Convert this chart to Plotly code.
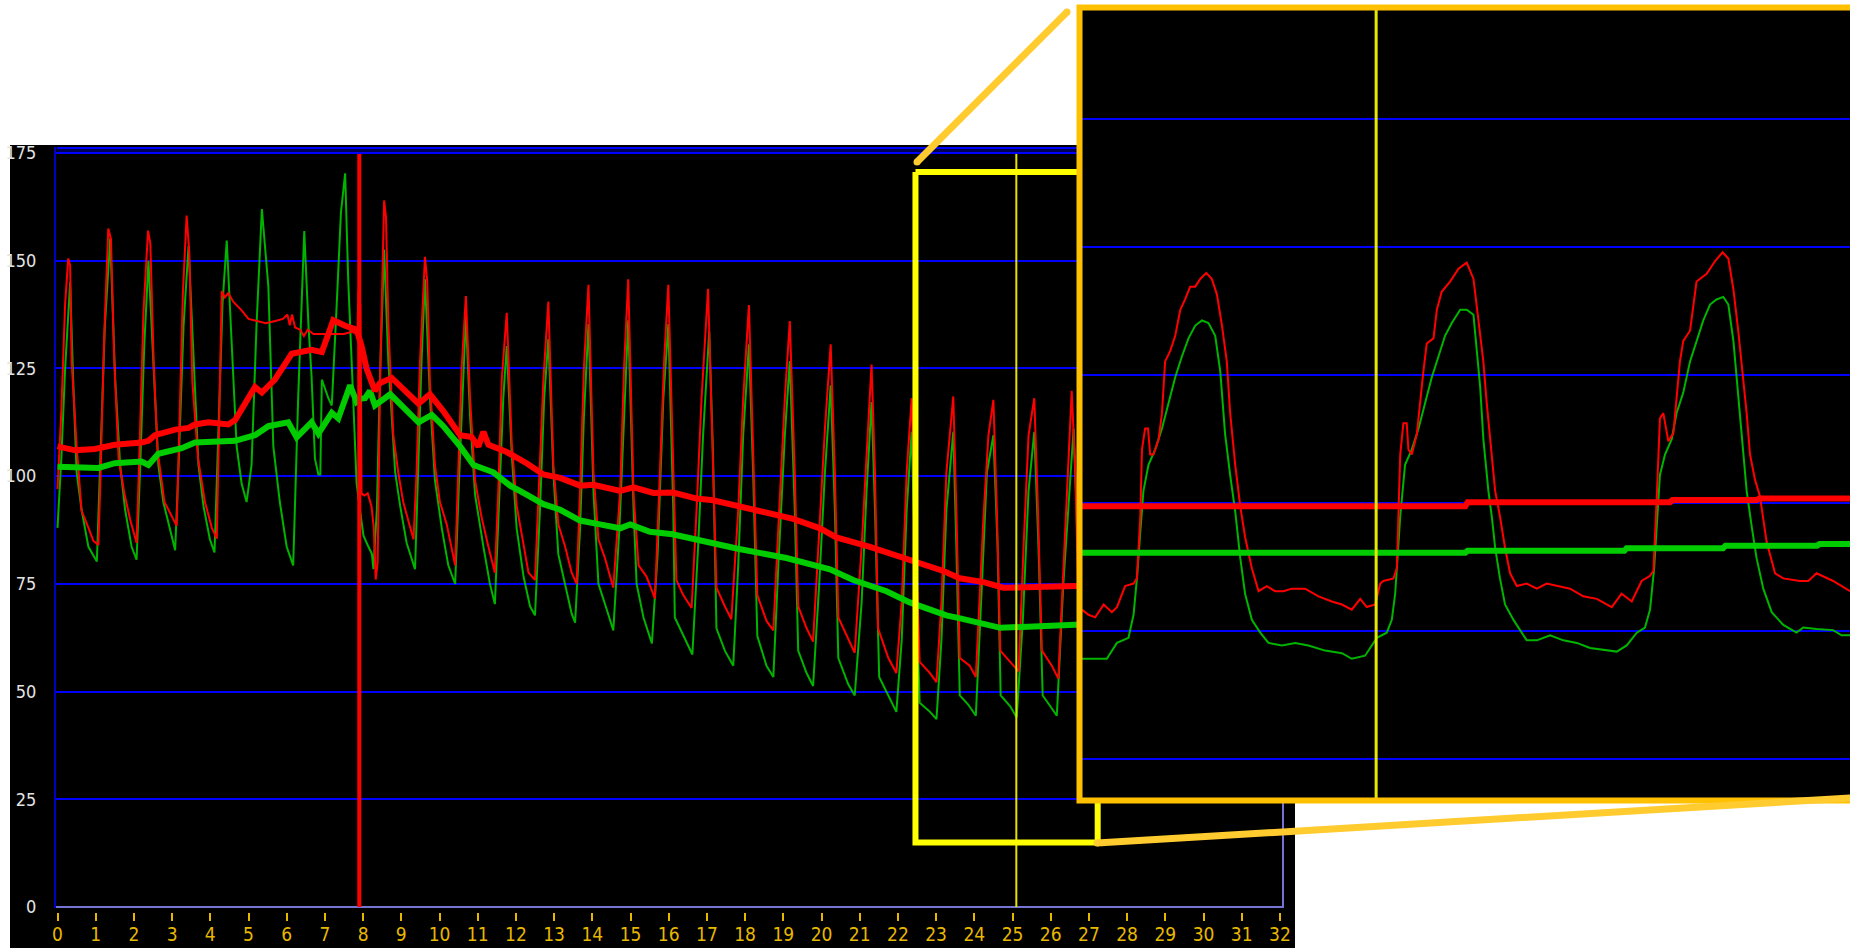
import plotly.graph_objects as go

W, H = 1850, 948

# ---------------- main chart data ----------------
RED_X = [0.00, 0.10, 0.20, 0.28, 0.33, 0.37, 0.50, 0.63, 0.81, 0.94, 1.07,
         1.12, 1.22, 1.33, 1.40, 1.48, 1.60, 1.75, 1.90, 2.07,
         2.14, 2.25, 2.37, 2.43, 2.52, 2.62, 2.80, 2.98, 3.12,
         3.18, 3.28, 3.38, 3.45, 3.53, 3.68, 3.86, 4.04, 4.17,
         4.22, 4.30, 4.38, 4.47, 4.60, 4.82, 5.00, 5.20, 5.45, 5.70, 5.90, 6.02, 6.08, 6.14,
         6.22, 6.35, 6.45, 6.55, 6.70, 6.90, 7.10, 7.30, 7.50, 7.70, 7.85,
         7.88, 7.90, 7.93, 7.96, 8.03, 8.12, 8.22, 8.28, 8.33, 8.38, 8.45, 8.55, 8.60,
         8.66, 8.79, 8.92, 9.05, 9.19, 9.32,
         9.40, 9.49, 9.62, 9.68, 9.75, 9.88, 10.01, 10.19, 10.41,
         10.49, 10.58, 10.69, 10.80, 10.93, 11.10, 11.28, 11.45,
         11.54, 11.63, 11.76, 11.89, 12.02, 12.20, 12.33, 12.50,
         12.59, 12.72, 12.85, 12.98, 13.11, 13.29, 13.46, 13.59,
         13.68, 13.78, 13.90, 14.03, 14.16, 14.33, 14.55,
         14.73, 14.83, 14.94, 15.08, 15.21, 15.42, 15.64,
         15.77, 15.88, 15.99, 16.12, 16.20, 16.38, 16.60,
         16.73, 16.86, 17.03, 17.16, 17.25, 17.47, 17.64,
         17.82, 17.95, 18.10, 18.21, 18.32, 18.56, 18.74,
         18.87, 19.04, 19.17, 19.30, 19.39, 19.61, 19.78,
         19.91, 20.09, 20.24, 20.35, 20.44, 20.70, 20.87,
         21.05, 21.18, 21.31, 21.40, 21.48, 21.75, 21.96,
         22.10, 22.23, 22.36, 22.44, 22.57, 22.84, 23.01,
         23.14, 23.27, 23.45, 23.53, 23.62, 23.88, 24.04,
         24.24, 24.37, 24.50, 24.59, 24.68, 24.94, 25.16,
         25.29, 25.42, 25.57, 25.65, 25.77, 26.03, 26.20,
         26.38, 26.55, 26.65, 26.75, 27.00, 27.20]
RED_Y = [97, 115, 140, 150.5, 149, 126.7, 107, 92, 88, 85, 84,
         98, 132, 157.5, 155, 128, 104, 96, 90, 84.5,
         104, 138, 157, 154, 126, 106, 94, 91, 88.5,
         108, 142, 160.5, 152, 122, 104, 94, 88, 85.5,
         105, 143, 141.5, 142.5, 140.5, 138.5, 136.5, 136, 135.5, 136, 136.5, 137.5, 135, 137.5,
         134.5, 134, 132.5, 134, 133, 133, 133, 133, 133, 133.5, 133,
         143, 100, 140, 96, 95.5, 96, 93, 88, 76, 80, 125, 164, 160,
         135.3, 109.5, 100.9, 94, 89.7, 85.3,
         100.9, 126.7, 150.9, 145, 121.6, 102.6, 94, 88.8, 79.3,
         100, 125, 141.8, 118, 99, 90.5, 83.6, 77.6,
         96.6, 122.4, 137.9, 107.8, 93.1, 83.6, 77.6, 75.9,
         96.6, 122.4, 140.5, 102.6, 88.8, 83.6, 77.6, 75,
         96.6, 125, 144.4, 100.9, 85.3, 81, 74.1,
         96.6, 125, 145.7, 95.7, 79.3, 76.7, 71.6,
         100.9, 126.7, 144.4, 100.9, 75.9, 72.4, 69.4,
         92.2, 118, 143.5, 105.2, 74.1, 69.8, 66.8,
         92, 118, 139.7, 105, 72.4, 66.4, 64.2,
         88, 118, 136, 100.9, 69.8, 64.7, 61.6,
         83.6, 111, 130.6, 100.9, 67.2, 62, 59,
         83.6, 105, 125.9, 100.9, 64.7, 57.8, 54.3,
         70.7, 100.9, 118.1, 92.2, 56.9, 54.3, 52.2,
         70.7, 100.9, 118.5, 92.2, 57.8, 56, 53.4,
         90.5, 109.5, 117.7, 92.2, 59.5, 56.9, 54.7,
         83.6, 109.5, 118.1, 97, 59.5, 56, 53,
         88, 119.8, 100, 60, 56, 54]

GREEN_X = [0.00, 0.10, 0.20, 0.33, 0.41, 0.50, 0.63, 0.81, 1.03,
           1.11, 1.24, 1.38, 1.51, 1.64, 1.77, 1.94, 2.07,
           2.16, 2.27, 2.38, 2.51, 2.64, 2.77, 2.95, 3.08,
           3.18, 3.30, 3.43, 3.56, 3.69, 3.82, 3.99, 4.11,
           4.21, 4.32, 4.43, 4.56, 4.69, 4.82, 4.95,
           5.08, 5.21, 5.35, 5.52, 5.65, 5.82, 6.00, 6.17,
           6.30, 6.46, 6.57, 6.65, 6.74, 6.83, 6.88, 6.92, 7.09, 7.18, 7.31, 7.42, 7.53, 7.61, 7.74, 7.83,
           7.95, 8.01, 8.14, 8.23, 8.27, 8.36, 8.44, 8.55,
           8.66, 8.75, 8.84, 8.97, 9.14, 9.36,
           9.45, 9.53, 9.62, 9.75, 9.88, 10.06, 10.23, 10.41,
           10.52, 10.61, 10.69, 10.80, 10.93, 11.15, 11.32, 11.45,
           11.57, 11.67, 11.76, 11.89, 12.02, 12.20, 12.37, 12.50,
           12.63, 12.74, 12.85, 12.98, 13.11, 13.29, 13.46, 13.55,
           13.68, 13.78, 13.90, 14.03, 14.16, 14.38, 14.55,
           14.71, 14.83, 14.94, 15.08, 15.16, 15.34, 15.56,
           15.71, 15.86, 15.99, 16.12, 16.16, 16.38, 16.62,
           16.77, 16.90, 17.06, 17.16, 17.25, 17.47, 17.69,
           17.82, 17.95, 18.10, 18.21, 18.32, 18.56, 18.74,
           18.87, 19.04, 19.17, 19.30, 19.39, 19.61, 19.78,
           19.94, 20.09, 20.24, 20.35, 20.44, 20.70, 20.87,
           21.05, 21.18, 21.31, 21.40, 21.51, 21.75, 21.96,
           22.10, 22.23, 22.36, 22.44, 22.57, 22.84, 23.01,
           23.14, 23.27, 23.45, 23.53, 23.62, 23.84, 24.04,
           24.20, 24.33, 24.50, 24.61, 24.69, 24.94, 25.11,
           25.27, 25.42, 25.57, 25.68, 25.79, 25.99, 26.16,
           26.33, 26.60, 26.72, 26.80, 27.00, 27.20]
GREEN_Y = [88, 104, 125, 145, 122.4, 100.9, 92.2, 83.6, 80.2,
           100.9, 135, 155.2, 122.4, 102.6, 92.2, 83.6, 80.6,
           100.9, 130, 150, 126.7, 102.6, 94, 87.1, 82.8,
           105, 135, 153.4, 126.7, 102.6, 93.1, 85.3, 82.3,
           110, 140, 154.7, 130.2, 106.9, 98.3, 94,
           102.6, 135, 162, 144, 106.9, 94, 83.6, 79.3,
           118, 156.9, 135, 123.3, 104, 100.4, 100.4, 122.4, 118.1, 116.4, 140, 161.2, 170.3, 145.7, 118.1, 98.3,
           90, 86.2, 83.6, 82, 78.4, 92.2, 122.4, 152.6,
           126.7, 113, 100.9, 93.1, 84.5, 78.4,
           105.2, 126.7, 145.7, 118.1, 99.1, 87.9, 79.3, 75,
           100.9, 122.4, 137, 113.8, 95.7, 83.6, 75, 70.3,
           96.6, 118.1, 130.2, 105.2, 87.9, 76.7, 69.8, 67.7,
           92.2, 118.1, 131.9, 100.9, 81.9, 75, 68.1, 66,
           87.9, 113.8, 135.3, 96.6, 75, 69, 64.2,
           87.9, 113.8, 136.2, 92.2, 75, 67.2, 61.2,
           81.9, 118.1, 135.3, 92.2, 67.2, 62.9, 58.6,
           83.6, 109.5, 133.6, 105.2, 64.7, 59.5, 56,
           79.3, 109.5, 130.6, 100.9, 62.9, 56, 53.4,
           79.3, 109.5, 126.7, 92.2, 59.5, 54.3, 51.3,
           75, 100.9, 121.1, 92.2, 57.8, 51.7, 49.1,
           70.7, 96.6, 117.2, 92.2, 53.4, 49.1, 45.3,
           62, 92.2, 110.3, 83.6, 47.4, 45.3, 43.6,
           62, 92.2, 110.3, 83.6, 49.1, 47, 44.4,
           75, 100.9, 109.5, 83.6, 49.1, 46.6, 44,
           66.4, 96.6, 110.3, 83.6, 49.1, 46.6, 44.4,
           75, 111, 80, 50, 46, 44]

RED_AVG_X = [0.00, 0.46, 0.98, 1.50, 2.20, 2.38, 2.55, 3.08, 3.43, 3.60, 3.95, 4.30, 4.47, 4.65,
             5.17, 5.35, 5.69, 6.13, 6.65, 6.92, 7.22, 7.53, 7.83, 7.96, 8.09, 8.31, 8.44, 8.75,
             9.05, 9.45, 9.75, 10.10, 10.54, 10.84, 11.02, 11.15, 11.28, 11.76, 12.28, 12.72,
             13.16, 13.68, 14.03, 14.73, 15.08, 15.60, 16.12, 16.73, 17.16, 17.78, 18.39, 19.26,
             19.96, 20.39, 21.27, 22.14, 23.19, 23.62, 24.24, 24.76, 26.64, 27.20]
RED_AVG_Y = [106.9, 106, 106.3, 107.3, 107.8, 108.2, 109.5, 110.8, 111.2, 112, 112.5, 112.3, 112, 113,
             120.7, 119.4, 122.4, 128.4, 129.3, 128.8, 136.2, 134.9, 134, 130.2, 125, 119.8, 121.6, 122.8,
             120.3, 116.8, 119, 115.1, 109.5, 109.1, 106.9, 110.3, 107.3, 105.6, 103, 100.4,
             99.6, 97.8, 98, 96.6, 97.4, 96.1, 96.2, 94.8, 94.4, 93.1, 91.8, 90.1,
             87.9, 85.8, 83.6, 81, 78, 76.3, 75.4, 74.1, 74.6, 74.6]

GREEN_AVG_X = [0.00, 1.07, 1.50, 2.20, 2.38, 2.64, 3.25, 3.60, 4.65, 5.17, 5.52, 6.04, 6.26,
               6.65, 6.83, 7.18, 7.35, 7.66, 7.83, 7.95, 8.05, 8.18, 8.31, 8.71, 9.05, 9.45,
               9.80, 10.10, 10.54, 10.89, 11.41, 11.85, 12.28, 12.72, 13.16, 13.68, 14.20,
               14.73, 14.99, 15.51, 16.10, 16.90, 17.78, 19.08, 20.22, 20.83, 21.70, 22.31,
               23.27, 23.63, 24.24, 24.68, 26.64, 27.20]
GREEN_AVG_Y = [102.2, 101.9, 103, 103.4, 102.6, 105.2, 106.5, 107.8, 108.2, 109.5, 111.6, 112.5, 109,
               112.5, 109.9, 114.7, 113.4, 121.1, 117.2, 118, 118.1, 119.8, 116.4, 119, 116, 112.5,
               114.2, 111.6, 106.9, 102.6, 100.9, 97.8, 95.7, 93.5, 92.2, 89.7, 88.8,
               87.9, 88.8, 87.1, 86.5, 84.9, 83.2, 81, 78.4, 75.9, 73.3, 70.7,
               67.7, 67, 65.9, 64.8, 65.5, 65.5]

MARKER_RED_X = 7.9      # red vertical marker
CURSOR_X = 25.1         # yellow cursor
BOX_X = [22.46, 27.23]  # zoom window (x)
BOX_Y = [15.0, 170.6]   # zoom window (y)

X_TICKS = list(range(0, 33))
Y_TICKS = [0, 25, 50, 75, 100, 125, 150, 175]

# ---------------- inset (magnified) data ----------------
IN_RED_X = [23.879, 23.906, 23.934, 23.969, 24.003, 24.024, 24.058, 24.093, 24.107, 24.121, 24.128,
            24.141, 24.153, 24.162, 24.176, 24.197, 24.211, 24.224, 24.245, 24.266, 24.287, 24.307,
            24.328, 24.349, 24.370, 24.395, 24.418, 24.439, 24.460, 24.480, 24.494, 24.515, 24.536,
            24.556, 24.584, 24.612, 24.646, 24.681, 24.715, 24.750, 24.805, 24.861, 24.916, 24.958,
            24.999, 25.034, 25.061, 25.096, 25.117, 25.130, 25.172, 25.186, 25.200, 25.213, 25.227,
            25.234, 25.248, 25.269, 25.296, 25.310, 25.338, 25.352, 25.372, 25.407, 25.442, 25.476,
            25.504, 25.525, 25.545, 25.559, 25.573, 25.594, 25.614, 25.635, 25.656, 25.684, 25.725,
            25.767, 25.808, 25.863, 25.905, 25.960, 26.016, 26.078, 26.119, 26.161, 26.202, 26.237,
            26.251, 26.265, 26.278, 26.292, 26.313, 26.334, 26.361, 26.375, 26.403, 26.430, 26.472,
            26.507, 26.538, 26.562, 26.583, 26.603, 26.624, 26.638, 26.652, 26.673, 26.693, 26.721,
            26.756, 26.790, 26.859, 26.894, 26.928, 26.997, 27.067]
IN_RED_Y = [54.1, 53.1, 52.6, 55.1, 53.6, 54.6, 58.7, 59.2, 60.2, 72.3, 85.4,
            89.5, 89.5, 84.4, 84.4, 87.4, 92.5, 102.6, 104.6, 107.6, 112.7, 114.7,
            117.2, 117.2, 118.7, 119.9, 118.7, 115.7, 109.6, 102.6, 92.5, 82.4, 74.3,
            68.3, 62.2, 57.7, 58.7, 57.7, 57.7, 58.2, 58.2, 56.7, 55.7, 55.1,
            54.1, 56.2, 54.6, 55.1, 59.2, 59.7, 60.2, 62.2, 84.4, 90.5, 90.5,
            85.4, 84.4, 88.4, 100.6, 106.1, 107.1, 112.7, 116.2, 118.2, 120.7, 121.9,
            118.7, 110.6, 102.6, 94.5, 87.4, 77.3, 72.3, 66.2, 61.2, 58.7, 59.2,
            58.2, 59.2, 58.7, 58.2, 56.7, 56.2, 54.6, 57.2, 55.7, 59.7, 60.7,
            61.7, 76.3, 91.5, 92.5, 87.0, 88.6, 102.6, 106.6, 108.6, 118.2, 119.7,
            122.2, 123.9, 122.7, 116.7, 108.6, 99.5, 92.5, 84.4, 79.4, 76.3, 67.3,
            61.2, 60.2, 59.7, 59.7, 61.2, 59.7, 57.7]

IN_GREEN_X = [23.879, 23.982, 24.024, 24.072, 24.093, 24.107, 24.121, 24.134, 24.155, 24.183, 24.211,
              24.238, 24.266, 24.294, 24.321, 24.349, 24.377, 24.404, 24.432, 24.453, 24.473, 24.494,
              24.515, 24.536, 24.556, 24.584, 24.619, 24.653, 24.709, 24.764, 24.819, 24.888, 24.958,
              24.999, 25.054, 25.082, 25.103, 25.144, 25.165, 25.179, 25.200, 25.220, 25.248, 25.276,
              25.303, 25.331, 25.359, 25.386, 25.414, 25.449, 25.476, 25.504, 25.518, 25.532, 25.545,
              25.566, 25.580, 25.594, 25.614, 25.635, 25.670, 25.725, 25.767, 25.822, 25.877, 25.933,
              25.988, 26.043, 26.099, 26.140, 26.182, 26.216, 26.237, 26.254, 26.267, 26.278, 26.299,
              26.327, 26.347, 26.375, 26.403, 26.430, 26.458, 26.486, 26.513, 26.541, 26.562, 26.583,
              26.600, 26.617, 26.638, 26.659, 26.679, 26.707, 26.742, 26.790, 26.845, 26.873, 26.928,
              26.997, 27.032, 27.067]
IN_GREEN_Y = [44.5, 44.5, 47.6, 48.6, 53.1, 60.2, 69.3, 77.3, 82.4, 85.4, 89.5,
              94.5, 99.5, 103.6, 107.1, 109.6, 110.6, 110.1, 107.6, 100.6, 88.4, 80.4,
              73.3, 64.2, 57.2, 52.1, 49.6, 47.6, 47.1, 47.6, 47.1, 46.1, 45.6,
              44.5, 45.1, 47.1, 48.6, 49.6, 52.1, 57.2, 72.3, 82.4, 85.4, 89.5,
              94.5, 99.5, 103.6, 107.6, 110.1, 112.7, 112.7, 111.7, 104.6, 97.5, 87.4,
              77.3, 72.3, 66.2, 60.2, 55.1, 52.1, 48.1, 48.1, 49.1, 48.1, 47.6,
              46.6, 46.3, 45.9, 47.1, 49.6, 50.6, 54.1, 62.2, 72.3, 80.4, 84.4,
              87.4, 92.5, 96.5, 102.6, 106.6, 110.6, 113.7, 114.7, 115.2, 113.7, 106.6,
              97.5, 87.4, 77.3, 70.3, 64.2, 58.2, 53.6, 51.1, 49.6, 50.6, 50.3,
              50.1, 49.1, 49.1]

IN_RED_AVG_X = [23.879, 25.470, 25.480, 26.320, 26.330, 26.680, 26.690, 27.067]
IN_RED_AVG_Y = [74.3, 74.3, 75.1, 75.1, 75.5, 75.5, 75.8, 75.8]
IN_GREEN_AVG_X = [23.879, 25.470, 25.480, 26.130, 26.140, 26.540, 26.550, 26.930, 26.940, 27.067]
IN_GREEN_AVG_Y = [65.2, 65.2, 65.6, 65.6, 66.1, 66.1, 66.6, 66.6, 66.9, 66.9]
IN_X_RANGE = [23.879, 27.067]
IN_Y_RANGE = [17.3, 171.25]
IN_GRID = [25, 50, 75, 100, 125, 150]

# ---------------- colours ----------------
RED = "#FF0000"
GREEN_THIN = "#00B400"
GREEN_THICK = "#00CC00"
GRID_BLUE = "#0000FF"
AXIS_LAV = "#7474D4"
GOLD = "#E8B800"
ORANGE = "#FFC000"
CONNECT = "#FFCB2E"
YELLOW = "#FFFF00"
FONT = "Liberation Sans Narrow, DejaVu Sans Condensed, Liberation Sans, sans-serif"


def PX(x):
    return x / W


def PY(y):
    return 1 - y / H


fig = go.Figure()

# main traces
fig.add_trace(go.Scatter(x=GREEN_X, y=GREEN_Y, mode="lines",
                         line=dict(color=GREEN_THIN, width=2), xaxis="x", yaxis="y"))
fig.add_trace(go.Scatter(x=RED_X, y=RED_Y, mode="lines",
                         line=dict(color=RED, width=2), xaxis="x", yaxis="y"))
fig.add_trace(go.Scatter(x=GREEN_AVG_X, y=GREEN_AVG_Y, mode="lines",
                         line=dict(color=GREEN_THICK, width=6), xaxis="x", yaxis="y"))
fig.add_trace(go.Scatter(x=RED_AVG_X, y=RED_AVG_Y, mode="lines",
                         line=dict(color=RED, width=6), xaxis="x", yaxis="y"))
fig.add_trace(go.Scatter(x=[MARKER_RED_X, MARKER_RED_X], y=[0, 174.8], mode="lines",
                         line=dict(color=RED, width=4), xaxis="x", yaxis="y"))
fig.add_trace(go.Scatter(x=[CURSOR_X, CURSOR_X], y=[0, 174.8], mode="lines",
                         line=dict(color="#E2E200", width=2), xaxis="x", yaxis="y"))
fig.add_trace(go.Scatter(x=[BOX_X[0], BOX_X[1], BOX_X[1], BOX_X[0], BOX_X[0]],
                         y=[BOX_Y[1], BOX_Y[1], BOX_Y[0], BOX_Y[0], BOX_Y[1]], mode="lines",
                         line=dict(color=YELLOW, width=6), xaxis="x", yaxis="y"))

# inset traces
fig.add_trace(go.Scatter(x=IN_GREEN_X, y=IN_GREEN_Y, mode="lines",
                         line=dict(color=GREEN_THIN, width=2), xaxis="x2", yaxis="y2"))
fig.add_trace(go.Scatter(x=IN_RED_X, y=IN_RED_Y, mode="lines",
                         line=dict(color=RED, width=2), xaxis="x2", yaxis="y2"))
fig.add_trace(go.Scatter(x=IN_GREEN_AVG_X, y=IN_GREEN_AVG_Y, mode="lines",
                         line=dict(color=GREEN_THICK, width=6), xaxis="x2", yaxis="y2"))
fig.add_trace(go.Scatter(x=IN_RED_AVG_X, y=IN_RED_AVG_Y, mode="lines",
                         line=dict(color=RED, width=6), xaxis="x2", yaxis="y2"))
fig.add_trace(go.Scatter(x=[CURSOR_X, CURSOR_X], y=IN_Y_RANGE, mode="lines",
                         line=dict(color="#E8E800", width=3), xaxis="x2", yaxis="y2"))

shapes = [
    # black panel behind main chart incl. tick label area
    dict(type="rect", xref="paper", yref="paper", x0=PX(10), x1=PX(1295), y0=0, y1=PY(145),
         fillcolor="black", line=dict(width=0), layer="below"),
    # top double border
    dict(type="rect", xref="paper", yref="paper", x0=PX(57), x1=PX(1283), y0=PY(152), y1=PY(149),
         fillcolor="#000050", line=dict(width=0), layer="below"),
    dict(type="line", xref="paper", yref="paper", x0=PX(57), x1=PX(1283), y0=PY(148), y1=PY(148),
         line=dict(color=GRID_BLUE, width=2), layer="below"),
    # right border
    dict(type="line", xref="paper", yref="paper", x0=PX(1283), x1=PX(1283), y0=PY(147), y1=PY(908),
         line=dict(color=AXIS_LAV, width=2), layer="below"),
    # inset frame
    dict(type="rect", xref="paper", yref="paper", x0=PX(1079.5), x1=PX(1900), y0=PY(800.5), y1=PY(7.5),
         line=dict(color=ORANGE, width=6), layer="above"),
    # connectors
    dict(type="line", xref="paper", yref="paper", x0=PX(917), y0=PY(162), x1=PX(1067), y1=PY(12),
         line=dict(color=CONNECT, width=7), layer="above"),
    dict(type="line", xref="paper", yref="paper", x0=PX(1097), y0=PY(843), x1=PX(1900), y1=PY(795),
         line=dict(color=CONNECT, width=7), layer="above"),
]
for cx, cy in [(917, 162), (1067, 12), (1097, 843)]:
    shapes.append(dict(type="circle", xref="paper", yref="paper",
                       x0=PX(cx - 3.5), x1=PX(cx + 3.5), y0=PY(cy + 3.5), y1=PY(cy - 3.5),
                       fillcolor=CONNECT, line=dict(width=0), layer="above"))

fig.update_layout(
    width=W, height=H,
    margin=dict(l=0, r=0, t=0, b=0, pad=0, autoexpand=False),
    paper_bgcolor="white",
    plot_bgcolor="black",
    showlegend=False,
    shapes=shapes,
    xaxis=dict(domain=[PX(56), PX(1284)], range=[(56 - 57.5) / 38.2, (1284 - 57.5) / 38.2],
               anchor="free", position=PY(912), tickmode="array", tickvals=X_TICKS,
               ticktext=[str(t) for t in X_TICKS], ticks="outside", ticklen=8, tickwidth=2,
               tickcolor=GOLD, tickfont=dict(family=FONT, size=19, color=GOLD),
               ticklabelstandoff=-3,
               showgrid=False, zeroline=False, showline=False, fixedrange=True,
               automargin=False),
    yaxis=dict(domain=[PY(908.3), PY(147)], range=[-0.3, 176.4], anchor="x",
               tickmode="array", tickvals=Y_TICKS, ticktext=[str(t) for t in Y_TICKS],
               ticks="outside", ticklen=14, tickcolor="black",
               tickfont=dict(family=FONT, size=18, color="#E4E4E4"),
               showgrid=True, gridcolor=GRID_BLUE, gridwidth=2,
               zeroline=True, zerolinecolor=AXIS_LAV, zerolinewidth=2,
               showline=True, linecolor="#0000C0", linewidth=2, fixedrange=True,
               automargin=False),
    xaxis2=dict(domain=[PX(1082), 1.0], range=IN_X_RANGE, anchor="y2", visible=False,
                fixedrange=True, automargin=False),
    yaxis2=dict(domain=[PY(798), PY(10)], range=IN_Y_RANGE, anchor="x2",
                tickmode="array", tickvals=IN_GRID, showticklabels=False, ticks="",
                showgrid=True, gridcolor=GRID_BLUE, gridwidth=2, zeroline=False,
                showline=False, fixedrange=True, automargin=False),
)

# pin the figure to the window's top-left corner, no page margins or scrollbars
POST = (
    "document.documentElement.style.margin='0';document.documentElement.style.padding='0';"
    "document.documentElement.style.overflow='hidden';"
    "document.body.style.margin='0';document.body.style.padding='0';"
    "document.body.style.overflow='hidden';"
    "var gd=document.querySelector('.plotly-graph-div');"
    "gd.style.position='fixed';gd.style.left='0px';gd.style.top='0px';"
)
fig.write_html("out.html", post_script=POST, config={"displayModeBar": False})
